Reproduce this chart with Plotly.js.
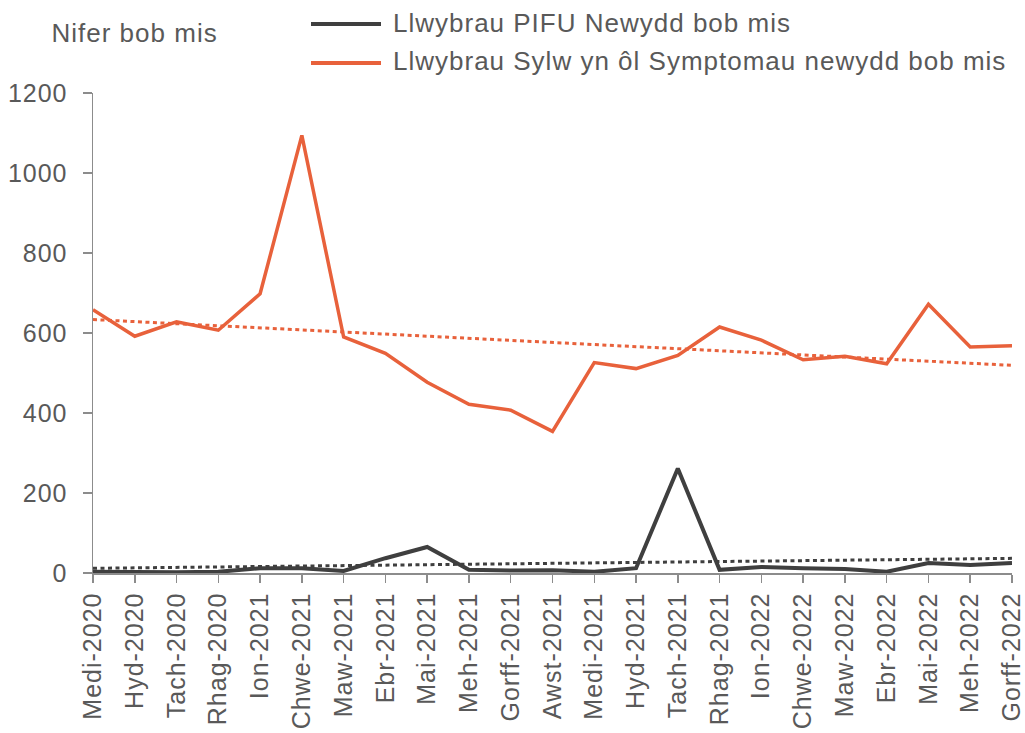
<!DOCTYPE html>
<html>
<head>
<meta charset="utf-8">
<script src="https://cdn.plot.ly/plotly-3.0.1.min.js"></script>
<style>
html,body{margin:0;padding:0;background:#fff;}
#chart{width:1025px;height:733px;}
#chart svg text{letter-spacing:1px;}
</style>
</head>
<body>
<div id="chart"></div>
<script>
const months = ["Medi-2020","Hyd-2020","Tach-2020","Rhag-2020","Ion-2021","Chwe-2021","Maw-2021","Ebr-2021","Mai-2021","Meh-2021","Gorff-2021","Awst-2021","Medi-2021","Hyd-2021","Tach-2021","Rhag-2021","Ion-2022","Chwe-2022","Maw-2022","Ebr-2022","Mai-2022","Meh-2022","Gorff-2022"];
const pifuNew = [3,2,2,3,12,12,5,37,65,8,6,7,3,12,261,8,15,12,10,3,25,20,25];
const sosNew = [658,592,628,607,698,1094,590,549,477,422,407,354,526,511,544,615,582,533,542,523,672,565,568];
const seriesNames = ["Llwybrau PIFU Newydd bob mis","Llwybrau Sylw yn ôl Symptomau newydd bob mis"];
const yTicks = [0,200,400,600,800,1000,1200];
const yAxisLabel = "Nifer bob mis";

const FONT = "Liberation Sans, Arial, sans-serif";
const TXT = "#595959";
const BLACK = "#3f3f3f";
const ORANGE = "#e8613b";
const LS = 1; // CSS letter-spacing (px) applied to all text

// linear trend (least squares) from the data, as in the original chart's trendlines
function trend(vals){
  const n = vals.length;
  let sx=0, sy=0, sxx=0, sxy=0;
  vals.forEach((v,i)=>{sx+=i;sy+=v;sxx+=i*i;sxy+=i*v;});
  const b = (n*sxy - sx*sy)/(n*sxx - sx*sx);
  const a = (sy - b*sx)/n;
  return vals.map((v,i)=>a+b*i);
}

const traces = [
  {x: months, y: trend(sosNew), type:"scatter", mode:"lines", line:{color:ORANGE, width:3, dash:"4px,3.5px"}, showlegend:false, hoverinfo:"skip"},
  {x: months, y: trend(pifuNew), type:"scatter", mode:"lines", line:{color:BLACK, width:3, dash:"4px,3.5px"}, showlegend:false, hoverinfo:"skip"},
  {x: months, y: sosNew, name: seriesNames[1], type:"scatter", mode:"lines", line:{color:ORANGE, width:3.5}, showlegend:false},
  {x: months, y: pifuNew, name: seriesNames[0], type:"scatter", mode:"lines", line:{color:BLACK, width:4}, showlegend:false}
];

const L = 93, R = 13, T = 93, B = 160;
const W = 1025 - L - R, H = 733 - T - B;
const px = v => (v - L)/W;
const py = v => (733 - B - v)/H;
// left-anchored text position, compensating for the letter-spacing that Plotly does not measure
const leftX = (v, s) => px(v + LS * s.length / 2);

const layout = {
  width:1025, height:733,
  margin:{l:L, r:R, t:T, b:B, pad:0},
  paper_bgcolor:"#fff", plot_bgcolor:"#fff",
  font:{family:FONT, size:26, color:TXT},
  showlegend:false,
  xaxis:{
    type:"category", categoryorder:"array", categoryarray: months,
    range:[0, months.length-1], tickangle:-90,
    showline:true, linecolor:"#8c8c8c", linewidth:1.5,
    ticks:"outside", ticklen:8, tickcolor:"#8c8c8c", tickwidth:1.5,
    showgrid:false, zeroline:false,
    tickfont:{family:FONT, size:25, color:TXT}, automargin:false
  },
  yaxis:{
    range:[0,1200], tickvals:yTicks, ticktext:yTicks.map(String),
    showline:true, linecolor:"#8c8c8c", linewidth:1.5,
    ticks:"outside", ticklen:9, tickcolor:"#8c8c8c", tickwidth:1.5,
    ticklabelstandoff:10,
    showgrid:false, zeroline:false,
    tickfont:{family:FONT, size:25, color:TXT}, automargin:false
  },
  shapes:[
    {type:"line", xref:"paper", yref:"paper", x0:px(311), x1:px(381), y0:py(24), y1:py(24), line:{color:BLACK, width:4}},
    {type:"line", xref:"paper", yref:"paper", x0:px(311), x1:px(381), y0:py(63), y1:py(63), line:{color:ORANGE, width:4}}
  ],
  annotations:[
    {xref:"paper", yref:"paper", x:leftX(391, seriesNames[0]), y:py(23), xanchor:"left", yanchor:"middle", text:seriesNames[0], showarrow:false, font:{family:FONT, size:26, color:TXT}},
    {xref:"paper", yref:"paper", x:leftX(391, seriesNames[1]), y:py(61), xanchor:"left", yanchor:"middle", text:seriesNames[1], showarrow:false, font:{family:FONT, size:26, color:TXT}},
    {xref:"paper", yref:"paper", x:leftX(49, yAxisLabel), y:py(33), xanchor:"left", yanchor:"middle", text:yAxisLabel, showarrow:false, font:{family:FONT, size:26, color:TXT}}
  ]
};

Plotly.newPlot("chart", traces, layout, {staticPlot:true, displayModeBar:false});
</script>
</body>
</html>
